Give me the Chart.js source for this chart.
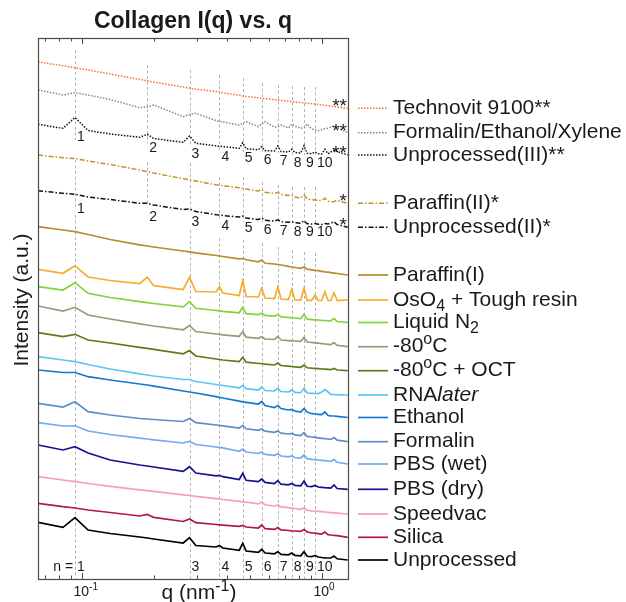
<!DOCTYPE html>
<html>
<head>
<meta charset="utf-8">
<title>Collagen I(q) vs. q</title>
<script src="https://cdn.jsdelivr.net/npm/chart.js@4.4.1/dist/chart.umd.min.js"></script>
<style>
  html, body { margin: 0; padding: 0; background: #fff; }
  canvas { display: block; }
</style>
</head>
<body>
<canvas id="myChart" width="626" height="602"></canvas>
<script>
// q values (nm^-1), shared by every curve
const q = [0.0656, 0.0833, 0.0935, 0.106, 0.131, 0.174, 0.187, 0.199, 0.264, 0.2805,
  0.298, 0.362, 0.374, 0.386, 0.452, 0.4675, 0.483, 0.543, 0.561, 0.579,
  0.634, 0.6545, 0.675, 0.725, 0.748, 0.771, 0.815, 0.8415, 0.867, 0.906,
  0.935, 0.964, 0.997, 1.0285, 1.06, 1.088, 1.122, 1.156, 1.28];

// stacked intensities (a.u., offset per sample), top to bottom
const technovit = [517.3, 513.2, 511.3, 509, 505, 499.5, 498.2, 497, 492, 491, 489.8, 487.5, 487, 486.3, 483.7, 483, 482.6, 481.2, 480.7, 480.3, 479.3, 478.9, 478.6, 477.8, 477.4, 477, 476.4, 476.1, 475.8, 475.3, 475, 474.6, 474.1, 473.7, 473.3, 472.9, 472.5, 472.1, 470.7];
const formEthXyl = [489, 484, 486.3, 484, 479.5, 471.3, 472, 474, 462.3, 464.5, 465.7, 458.3, 457.7, 457, 454, 455.5, 457.3, 452.3, 455, 457.3, 451.7, 452.5, 454, 451, 455, 453, 450.7, 451.5, 455, 450, 449, 448.3, 449.5, 450.5, 450.7, 452, 453, 451.5, 446.3];
const unproc3 = [454.7, 450.7, 461.5, 448.5, 445, 441.7, 444.7, 440.5, 436.7, 443, 435.7, 433.2, 432.8, 432.4, 430.7, 436.3, 430.2, 429.2, 432.3, 428.4, 428, 433, 427.5, 427, 429.7, 426.5, 426, 433.3, 425.7, 425.4, 427, 425.2, 425, 429.7, 425.2, 427, 429, 427.5, 424];
const paraffin2 = [424, 421.3, 420.5, 418, 414.5, 409, 407.5, 406, 400.3, 399.2, 398, 394.2, 393.7, 393.2, 391.2, 390.7, 390, 388, 389.5, 386.7, 385.7, 386.7, 384.5, 383.5, 384, 382, 381, 384, 380, 379.3, 379, 378.7, 378.5, 380.7, 377.7, 377.3, 377.5, 378.5, 375.7];
const unproc2 = [388.3, 385.7, 384.7, 382, 379.5, 375.7, 375.7, 374, 369.5, 370, 367.5, 364.3, 364, 363.5, 362, 363, 361, 359.5, 361, 358.7, 358, 359.2, 357.3, 356.7, 357.2, 356.2, 355.7, 358.3, 355.2, 355, 355.5, 354.7, 354.5, 355.5, 355, 356, 357.3, 354.5, 351.7];
const paraffin1 = [352.3, 349, 347.3, 344.5, 339.5, 334.2, 333, 332, 328, 327.2, 326.2, 323.5, 323, 322.5, 320.2, 320.5, 319.2, 317.2, 319, 315.7, 315, 314.5, 314, 312.7, 312, 311.5, 310.7, 312, 309.8, 309.2, 308.7, 308.3, 307.7, 307.2, 306.8, 306.3, 305.9, 305.5, 304];
const osmium = [309.7, 305.7, 313.3, 302, 298.5, 295.5, 301.7, 293.3, 289.5, 301.7, 287.5, 287, 292.3, 286, 283.5, 298.3, 282.5, 282, 290.7, 281, 280.5, 292.3, 280, 279.5, 289.7, 279, 278.8, 290.7, 278.7, 278.7, 284, 278.5, 278.5, 287.3, 278.5, 278.5, 286.3, 278.5, 279];
const liquidN2 = [292.3, 289, 296.3, 285.7, 281.5, 277.3, 276.3, 275.5, 272.2, 277.3, 270.7, 268.5, 268.1, 267.7, 266.2, 271.5, 265.4, 264.4, 265.7, 263.7, 262.8, 264.2, 262.2, 261.5, 261.2, 261, 260.3, 264.5, 259.8, 259.4, 259.2, 259, 258.7, 258.5, 258.2, 258, 260.7, 257.5, 256.5];
const minus80 = [273, 268, 271.7, 264, 260, 255.2, 254, 253, 249.2, 253.5, 247.5, 245, 244.6, 244.2, 242.7, 247.5, 241.8, 240.7, 242.2, 240, 239.5, 242.5, 239, 238.4, 238.2, 238, 237.6, 241.5, 237, 236.5, 236.2, 235.8, 235.3, 235, 234.7, 234.4, 236.5, 233.7, 232.3];
const minus80oct = [246.3, 242.3, 244.7, 239, 236, 231.7, 230.7, 229.7, 225.2, 228.5, 223, 220, 219.5, 219, 217.5, 221.7, 216.8, 215.5, 215.5, 214.8, 214, 216, 213.5, 212.8, 212.5, 212.2, 211.7, 214, 211.2, 210.8, 210.6, 210.4, 210, 209.8, 209.6, 209.3, 210.5, 209, 208.3];
const rnalater = [222.3, 219, 217.3, 214.5, 210, 205.2, 204, 203, 199.5, 199.5, 197.5, 194.5, 194, 193.5, 191.2, 193.5, 190.3, 189, 192, 188.5, 188, 190.7, 187.5, 187, 189, 186.7, 186.3, 190.7, 186, 185.7, 185.5, 185.3, 187, 189.5, 187, 184.7, 184.5, 184.3, 184];
const ethanol = [209, 206.5, 206.5, 202.3, 199, 195, 194, 192.8, 188, 187, 186, 182.3, 181.7, 181, 177.8, 177.2, 176.7, 175, 177.5, 173.5, 171.4, 173.5, 170.5, 169, 169.5, 168, 167, 170.5, 167, 165.3, 165, 164.7, 164.3, 167, 163.5, 163.2, 163, 162.7, 161.5];
const formalin = [175.7, 172, 177.3, 167.3, 164, 160.5, 160, 159.5, 157.5, 160.5, 156.3, 154, 153.6, 153.2, 151, 153.5, 150.2, 148.6, 150, 147.8, 146.6, 148, 145.8, 145, 145.5, 144.2, 143.4, 146.3, 142.6, 142, 141.6, 141.2, 140.7, 140.3, 140, 139.6, 141.5, 138.8, 137.3];
const pbsWet = [156.3, 153, 153.2, 148, 144.5, 140.8, 140, 139.2, 136, 137.5, 134.5, 132, 131.6, 131.2, 127.7, 130, 127, 125.5, 127, 124.6, 123.6, 125.2, 123, 122.2, 123, 121.5, 121, 124, 120.3, 119.7, 119.4, 119, 118.6, 118.3, 118, 117.7, 119.5, 116.7, 115];
const pbsDry = [134, 129, 132.3, 126, 119, 114, 113, 112, 107.6, 112.3, 106, 103.2, 103.7, 102.3, 99.5, 105.7, 98.7, 97.4, 100, 96.6, 95.5, 98.3, 94.8, 94.2, 95.5, 93.7, 93.2, 98, 92.7, 92.4, 93.5, 92, 91.7, 91.4, 91.2, 91, 94, 90.5, 89.7];
const speedvac = [102.3, 99, 97.3, 95.5, 92.7, 89.2, 88.4, 87.6, 84.2, 83.5, 82.7, 80.4, 80, 79.5, 77.7, 77.2, 76.8, 75.2, 77, 74.2, 73, 74, 72.2, 71.4, 70.8, 70.5, 69.7, 71, 68.7, 68.2, 68, 67.7, 67.3, 67, 66.7, 66.4, 66.1, 65.8, 65];
const silica = [75.7, 72.3, 71, 69, 66.5, 63, 64.5, 61.7, 57.5, 60, 56.3, 54.5, 54.2, 53.9, 52.6, 53.5, 52, 51, 54, 50.4, 49.6, 51.5, 49.1, 48.5, 48.2, 48, 47.6, 49.5, 47, 46.2, 45.8, 45.4, 45, 47, 44.4, 44, 43.7, 43.3, 41.7];
const unprocessed = [56.7, 51.7, 61.3, 49, 45.5, 42, 41, 40, 36, 41.3, 33.5, 32, 33.5, 31, 28.7, 35.7, 28, 26.7, 29.7, 26, 25.2, 27.3, 24.7, 24.2, 26, 23.7, 23.2, 27.3, 22.7, 22.3, 23.5, 22, 21.5, 21.2, 21, 21, 23, 20.2, 19];

const series = [technovit, formEthXyl, unproc3, paraffin2, unproc2, paraffin1, osmium, liquidN2,
  minus80, minus80oct, rnalater, ethanol, formalin, pbsWet, pbsDry, speedvac, silica, unprocessed];
const labels = ['Technovit 9100**', 'Formalin/Ethanol/Xylene', 'Unprocessed(III)**', 'Paraffin(II)*',
  'Unprocessed(II)*', 'Paraffin(I)', 'OsO_{4} + Tough resin', 'Liquid N_{2}', '-80^{o}C', '-80^{o}C + OCT',
  'RNA~{later}', 'Ethanol', 'Formalin', 'PBS (wet)', 'PBS (dry)', 'Speedvac', 'Silica', 'Unprocessed'];
const stars = ['**', '**', '**', '*', '*'];

// D-period orders and their guide segments (a.u. on the stacked scale)
const q1 = 0.0935;
const orders = [1, 2, 3, 4, 5, 6, 7, 8, 9, 10];
const guideTopFrom = [529, 514, 509, 504, 501, 496, 494, 493, 492, 492];
const guideTopTo = [439, 436, 432, 429, 427, 426, 426, 424, 424, 424];
const guideMidFrom = [419, 417, 416, 402, 402, 397, 394, 392, 392, 392];
const guideMidTo = [372, 374, 367, 359, 357, 357, 356, 356, 356, 356];
const guideLowFrom = [364, null, 349, 341, 339, 336, 332, 329, 327, 326];
const labelTopY = [442, 431, 425, 422, 421, 419, 418, 416, 416, 416];
const labelMidY = [370, 362, 357, 353, 351, 349, 348, 347, 347, 347];
const labelLowY = 12;

const xTicks = [0.07, 0.08, 0.09, 0.1, 0.2, 0.3, 0.4, 0.5, 0.6, 0.7, 0.8, 0.9, 1];
const xMajor = { 0.1: '10^{-1}', 1: '10^{0}' };

const colors = ['#ff6b35', '#a27a90', '#111111', '#c1922a', '#111111', '#b98a2e', '#f6ad2b', '#7fd43a',
  '#8ba076', '#5a7c1f', '#5cc5f4', '#1478cf', '#5b8ec7', '#73aaf2', '#12128f', '#f3a1b3', '#b3183d', '#000000'];
const dashes = [[1.5, 1.5], [1.5, 1.5], [1.5, 1.5], [5, 2, 1.5, 2], [5, 2, 1.5, 2]];

const FAM = '"Liberation Sans", Arial, Helvetica, sans-serif';

function parseRich(str) {
  const out = [];
  const re = /([_^~])\{([^}]*)\}|([^_^~]+)/g;
  let m;
  while ((m = re.exec(str))) {
    if (m[3]) out.push([m[3], '']);
    else out.push([m[2], { '_': 'sub', '^': 'sup', '~': 'it' }[m[1]]]);
  }
  return out;
}

function drawRich(ctx, str, x, y, size, align, weight) {
  const segs = parseRich(str);
  const fontFor = t => (t === 'it' ? 'italic ' : '') + (weight ? weight + ' ' : '') +
    Math.round(t === 'sub' || t === 'sup' ? size * 0.74 : size) + 'px ' + FAM;
  let w = 0;
  segs.forEach(([s, t]) => { ctx.font = fontFor(t); w += ctx.measureText(s).width; });
  let cx = align === 'center' ? x - w / 2 : align === 'right' ? x - w : x;
  ctx.textAlign = 'left';
  ctx.textBaseline = 'middle';
  segs.forEach(([s, t]) => {
    ctx.font = fontFor(t);
    const dy = t === 'sub' ? size * 0.3 : t === 'sup' ? -size * 0.32 : 0;
    ctx.fillText(s, cx, y + dy);
    cx += ctx.measureText(s).width;
  });
}

const annotate = {
  id: 'annotate',
  beforeDatasetsDraw(chart) {
    const { ctx, scales: { x, y } } = chart;
    ctx.save();
    ctx.strokeStyle = '#b4b4b4';
    ctx.lineWidth = 1;
    ctx.setLineDash([3, 2.5]);
    orders.forEach((n, i) => {
      const px = Math.round(x.getPixelForValue(n * q1)) + 0.5;
      [[guideTopFrom[i], guideTopTo[i]], [guideMidFrom[i], guideMidTo[i]], [guideLowFrom[i], 0]].forEach(([a, b]) => {
        if (a == null) return;
        ctx.beginPath();
        ctx.moveTo(px, y.getPixelForValue(a));
        ctx.lineTo(px, y.getPixelForValue(b));
        ctx.stroke();
      });
    });
    ctx.restore();
  },
  afterDraw(chart) {
    const { ctx, chartArea: area, scales: { x, y } } = chart;
    ctx.save();
    ctx.fillStyle = '#1a1a1a';

    // order numbers next to the guides
    ctx.font = '14px ' + FAM;
    ctx.textBaseline = 'middle';
    orders.forEach((n, i) => {
      const px = x.getPixelForValue(n * q1) + 2;
      ctx.textAlign = 'left';
      ctx.fillText(String(n), px, y.getPixelForValue(labelTopY[i]));
      ctx.fillText(String(n), px, y.getPixelForValue(labelMidY[i]));
      if (n === 1) {
        ctx.textAlign = 'right';
        ctx.fillText('n = 1', px + ctx.measureText('1').width, y.getPixelForValue(labelLowY));
      } else if (guideLowFrom[i] != null) {
        ctx.fillText(String(n), px, y.getPixelForValue(labelLowY));
      }
    });

    // stars at the right end of the top curves
    ctx.font = '19px ' + FAM;
    ctx.textAlign = 'right';
    ctx.textBaseline = 'alphabetic';
    stars.forEach((s, i) => {
      const ys = y.getPixelForValue(series[i][series[i].length - 1]);
      ctx.fillText(s, area.right - 1, ys + 4);
    });

    // frame and log ticks (inside, top and bottom)
    ctx.setLineDash([]);
    ctx.strokeStyle = '#4a4a4a';
    ctx.lineWidth = 1.2;
    ctx.strokeRect(area.left + 0.5, area.top + 0.5, area.right - area.left, area.bottom - area.top);
    ctx.lineWidth = 1;
    xTicks.forEach(v => {
      const px = Math.round(x.getPixelForValue(v)) + 0.5;
      const len = xMajor[v] ? 6 : 3.5;
      ctx.beginPath();
      ctx.moveTo(px, area.bottom);
      ctx.lineTo(px, area.bottom - len);
      ctx.moveTo(px, area.top);
      ctx.lineTo(px, area.top + len);
      ctx.stroke();
      if (xMajor[v]) drawRich(ctx, xMajor[v], px - 9, area.bottom + 13, 14, 'left');
    });

    // axis titles and chart title
    drawRich(ctx, 'q (nm^{-1})', (area.left + area.right) / 2 + 6, area.bottom + 14, 21, 'center');
    ctx.save();
    ctx.translate(22, 300);
    ctx.rotate(-Math.PI / 2);
    drawRich(ctx, 'Intensity (a.u.)', 0, 0, 21, 'center');
    ctx.restore();
    drawRich(ctx, 'Collagen I(q) vs. q', (area.left + area.right) / 2, 22, 23, 'center', 'bold');

    // legend aligned with the end of each curve
    chart.data.datasets.forEach((ds, i) => {
      const ys = y.getPixelForValue(series[i][series[i].length - 1]);
      ctx.strokeStyle = ds.borderColor;
      ctx.lineWidth = ds.borderWidth;
      ctx.setLineDash(ds.borderDash || []);
      ctx.beginPath();
      ctx.moveTo(area.right + 10, ys);
      ctx.lineTo(area.right + 40, ys);
      ctx.stroke();
      ctx.setLineDash([]);
      ctx.fillStyle = '#1a1a1a';
      drawRich(ctx, labels[i], area.right + 45, ys, 21, 'left');
    });
    ctx.restore();
  }
};

new Chart(document.getElementById('myChart'), {
  type: 'line',
  data: {
    datasets: series.map((s, i) => ({
      label: labels[i],
      data: q.map((qv, j) => ({ x: qv, y: s[j] })),
      borderColor: colors[i],
      borderWidth: i < 5 ? 1.5 : 1.7,
      borderDash: dashes[i] || [],
      pointRadius: 0,
      fill: false,
      tension: 0
    }))
  },
  options: {
    responsive: false,
    animation: false,
    devicePixelRatio: 1,
    layout: { padding: { left: 38, right: 278, top: 38, bottom: 23 } },
    scales: {
      x: { type: 'logarithmic', min: 0.06556, max: 1.2832, display: false },
      y: { min: 0, max: 541, display: false }
    },
    plugins: { legend: { display: false }, tooltip: { enabled: false } }
  },
  plugins: [annotate]
});
</script>
</body>
</html>
